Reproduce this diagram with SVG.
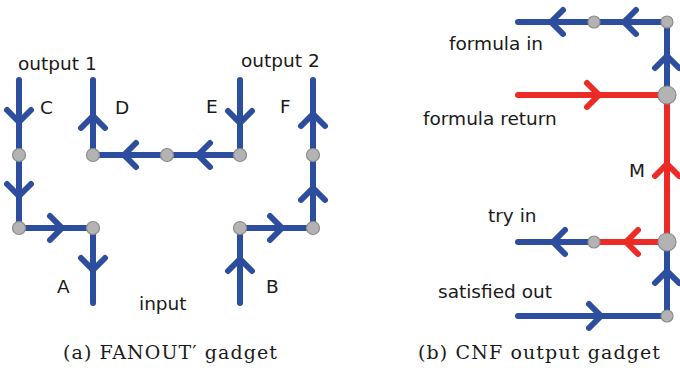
<svg xmlns="http://www.w3.org/2000/svg" width="680" height="372" viewBox="0 0 680 372">
<style>
.b{stroke:#2d4d9e;stroke-width:6;fill:none;stroke-linecap:round;stroke-linejoin:round}
.r{stroke:#ec2a26;stroke-width:6;fill:none;stroke-linecap:round;stroke-linejoin:round}
.n{fill:#b3b3b3;stroke:#8c8c8c;stroke-width:1.2}
.t{font-family:"DejaVu Sans",sans-serif;font-size:18.5px;fill:#1a1a1a}
.c{font-family:"DejaVu Serif",serif;font-size:19px;fill:#1a1a1a}
</style>
<defs>
<marker id="ab" markerUnits="userSpaceOnUse" viewBox="-20 -20 40 40" markerWidth="40" markerHeight="40" refX="0" refY="0" orient="auto" overflow="visible">
<path d="M-12,-12 L0,0 L-12,12" class="b"/>
</marker>
<marker id="ar" markerUnits="userSpaceOnUse" viewBox="-20 -20 40 40" markerWidth="40" markerHeight="40" refX="0" refY="0" orient="auto" overflow="visible">
<path d="M-12,-12 L0,0 L-12,12" class="r"/>
</marker>
</defs>
<g id="connectors">
<path class="b" marker-mid="url(#ab)" d="M19,80 L19,122 L19,155"/>
<path class="b" marker-mid="url(#ab)" d="M19,155 L19,196 L19,228"/>
<path class="b" marker-mid="url(#ab)" d="M19,228 L62,228 L93,228"/>
<path class="b" marker-mid="url(#ab)" d="M93,228 L93,270 L93,303"/>
<path class="b" marker-mid="url(#ab)" d="M93,155 L93,116 L93,80"/>
<path class="b" marker-mid="url(#ab)" d="M167,155 L124,155 L93,155"/>
<path class="b" marker-mid="url(#ab)" d="M240,155 L198,155 L167,155"/>
<path class="b" marker-mid="url(#ab)" d="M240,80 L240,123 L240,155"/>
<path class="b" marker-mid="url(#ab)" d="M313,155 L313,114 L313,80"/>
<path class="b" marker-mid="url(#ab)" d="M313,228 L313,188 L313,155"/>
<path class="b" marker-mid="url(#ab)" d="M240,303 L240,259 L240,228"/>
<path class="b" marker-mid="url(#ab)" d="M240,228 L282,228 L313,228"/>
<path class="b" marker-mid="url(#ab)" d="M594,22 L551,22 L518,22"/>
<path class="b" marker-mid="url(#ab)" d="M667,22 L624,22 L594,22"/>
<path class="b" marker-mid="url(#ab)" d="M667,95 L667,56 L667,22"/>
<path class="r" marker-mid="url(#ar)" d="M518,95 L599,95 L667,95"/>
<path class="r" marker-mid="url(#ar)" d="M667,242 L667,164 L667,95"/>
<path class="r" marker-mid="url(#ar)" d="M667,242 L626,242 L594,242"/>
<path class="b" marker-mid="url(#ab)" d="M594,242 L553,242 L518,242"/>
<path class="b" marker-mid="url(#ab)" d="M667,316 L667,271 L667,242"/>
<path class="b" marker-mid="url(#ab)" d="M518,316 L601,316 L667,316"/>
</g>
<g id="n1"><circle class="n" cx="19" cy="155" r="6.5"/></g>
<g id="n2"><circle class="n" cx="19" cy="228" r="6.5"/></g>
<g id="n3"><circle class="n" cx="93" cy="228" r="6.5"/></g>
<g id="n4"><circle class="n" cx="93" cy="155" r="6.5"/></g>
<g id="n5"><circle class="n" cx="167" cy="155" r="6.5"/></g>
<g id="n6"><circle class="n" cx="240" cy="155" r="6.5"/></g>
<g id="n7"><circle class="n" cx="313" cy="155" r="6.5"/></g>
<g id="n8"><circle class="n" cx="313" cy="228" r="6.5"/></g>
<g id="n9"><circle class="n" cx="240" cy="228" r="6.5"/></g>
<g id="m1"><circle class="n" cx="594" cy="22" r="6"/></g>
<g id="m2"><circle class="n" cx="667" cy="22" r="6"/></g>
<g id="m3"><circle class="n" cx="667" cy="95" r="9"/></g>
<g id="m4"><circle class="n" cx="667" cy="242" r="9"/></g>
<g id="m5"><circle class="n" cx="594" cy="242" r="6"/></g>
<g id="m6"><circle class="n" cx="667" cy="316" r="6"/></g>
<g id="labels">
<text class="t" x="18" y="70">output 1</text>
<text class="t" x="241" y="67">output 2</text>
<text class="t" x="40" y="114">C</text>
<text class="t" x="115" y="114">D</text>
<text class="t" x="206" y="113">E</text>
<text class="t" x="280" y="113">F</text>
<text class="t" x="57" y="293">A</text>
<text class="t" x="266" y="293">B</text>
<text class="t" x="139" y="310">input</text>
<text class="t" x="449" y="50">formula in</text>
<text class="t" x="423" y="125">formula return</text>
<text class="t" x="629" y="177">M</text>
<text class="t" x="488" y="222">try in</text>
<text class="t" x="438" y="298">satisfied out</text>
<text class="c" x="63" y="359" textLength="214">(a) FANOUT′ gadget</text>
<text class="c" x="418" y="359" textLength="242">(b) CNF output gadget</text>
</g>
</svg>
